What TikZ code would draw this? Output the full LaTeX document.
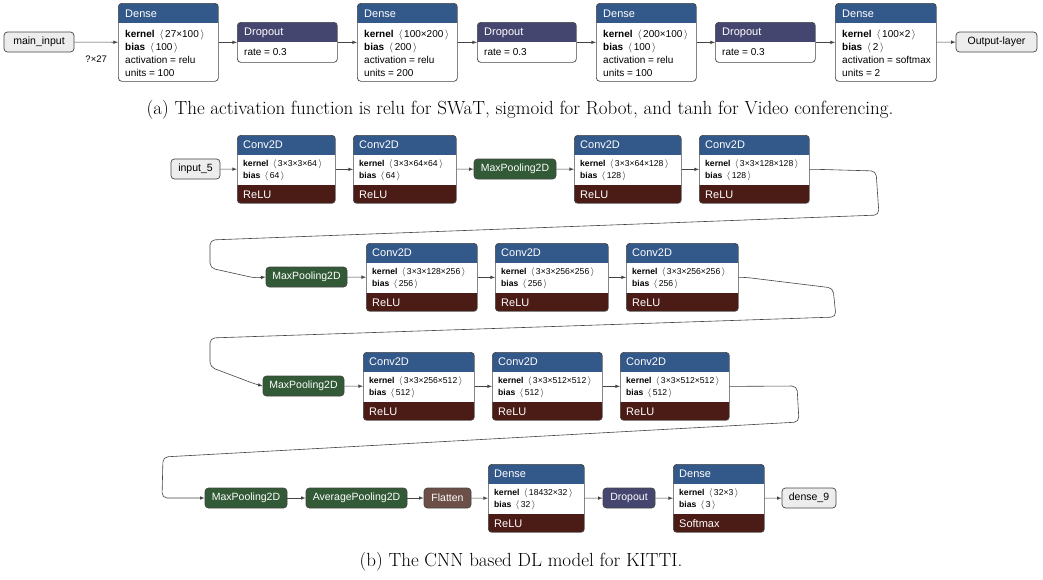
\documentclass[tikz,border=0pt]{standalone}
\usepackage{fontspec}
\newfontfamily\netfont{Liberation Sans}
\usepackage{xcolor}
\definecolor{layerblue}{HTML}{33588A}
\definecolor{dropcol}{HTML}{45466F}
\definecolor{poolcol}{HTML}{325A36}
\definecolor{actcol}{HTML}{4B1B16}
\definecolor{shapecol}{HTML}{6C4F47}
\definecolor{edgecol}{HTML}{444444}
\tikzset{
  box/.style 2 args={draw=edgecol,fill=white,line width=0.7pt,rounded corners=3.5pt,
    inner sep=0pt,anchor=north west,minimum width=#1,minimum height=#2},
  head/.style={path picture={\fill[#1,sharp corners] (path picture bounding box.north west)
    rectangle ([yshift=-20pt]path picture bounding box.north east);}},
  conv/.style={path picture={\fill[layerblue,sharp corners] (path picture bounding box.north west)
    rectangle ([yshift=-20pt]path picture bounding box.north east);
    \fill[actcol,sharp corners] (path picture bounding box.south west)
    rectangle ([yshift=18pt]path picture bounding box.south east);}},
  pill/.style={draw=edgecol,rounded corners=3.5pt,line width=0.7pt,minimum height=20pt,
    inner sep=0pt,text=white,font=\netfont\fontsize{10.5}{12}\selectfont},
  io/.style={pill,fill=black!7,text=black},
  title/.style={anchor=west,inner sep=0pt,text=white,font=\netfont\fontsize{11}{12}\selectfont},
  info/.style={anchor=north west,inner sep=0pt,align=left,font=\netfont\fontsize{10}{13}\selectfont},
  small/.style={info,font=\netfont\fontsize{8.6}{12}\selectfont},
  link/.style={->,draw=edgecol,line width=0.6pt,rounded corners=5pt},
}
\NewDocumentCommand\kb{m m}{\textbf{kernel}\enspace$\langle\,$#1$\,\rangle$\\\textbf{bias}\enspace$\langle\,$#2$\,\rangle$}
% boxes of the first model: name, x, y, width, height, colour, title, text
\NewDocumentCommand\topbox{m m m m m m m m}{%
  \node[box={#4pt}{#5pt},head=#6] (#1) at (#2,#3) {};
  \node[title] at ([xshift=7pt,yshift=-10.5pt]#1.north west) {#7};
  \node[info] at ([xshift=7pt,yshift=-26.5pt]#1.north west) {#8};}
% boxes of the CNN: name, x, y, width, title, text, activation
\NewDocumentCommand\actbox{m m m m m m m}{%
  \node[box={#4pt}{68pt},conv] (#1) at (#2,#3) {};
  \node[title] at ([xshift=6pt,yshift=-10pt]#1.north west) {#5};
  \node[small] at ([xshift=6pt,yshift=-24.5pt]#1.north west) {#6};
  \node[title] at ([xshift=6pt,yshift=9pt]#1.south west) {#7};}

\begin{document}
\begin{tikzpicture}[>=latex,x=1pt,y=-1pt]
  \useasboundingbox[fill=white] (0,0) rectangle (1043,579);
  % (a)
  \node[io,minimum width=70pt] (inp) at (39,42) {main\_input};
  \topbox{d1}{118}{3}{100}{78}{layerblue}{Dense}{\textbf{kernel}\enspace$\langle\,$27×100$\,\rangle$\\\textbf{bias}\enspace$\langle\,$100$\,\rangle$\\activation = relu\\units = 100}
  \topbox{r1}{237}{22}{100}{40}{dropcol}{Dropout}{rate = 0.3}
  \topbox{d2}{357}{3}{100}{78}{layerblue}{Dense}{\textbf{kernel}\enspace$\langle\,$100×200$\,\rangle$\\\textbf{bias}\enspace$\langle\,$200$\,\rangle$\\activation = relu\\units = 200}
  \topbox{r2}{477}{22}{99}{40}{dropcol}{Dropout}{rate = 0.3}
  \topbox{d3}{596}{3}{100}{78}{layerblue}{Dense}{\textbf{kernel}\enspace$\langle\,$200×100$\,\rangle$\\\textbf{bias}\enspace$\langle\,$100$\,\rangle$\\activation = relu\\units = 100}
  \topbox{r3}{715}{22}{100}{40}{dropcol}{Dropout}{rate = 0.3}
  \topbox{d4}{835}{3}{101}{78}{layerblue}{Dense}{\textbf{kernel}\enspace$\langle\,$100×2$\,\rangle$\\\textbf{bias}\enspace$\langle\,$2$\,\rangle$\\activation = softmax\\units = 2}
  \node[io,minimum width=81pt] (out) at (996.5,42) {Output-layer};
  \draw[link] (inp) -- node[pos=0.5,yshift=-17pt,font=\netfont\fontsize{9.5}{11}\selectfont]{?×27} (d1);
  \draw[link] (d1) -- (r1);
  \draw[link] (r1) -- (d2);
  \draw[link] (d2) -- (r2);
  \draw[link] (r2) -- (d3);
  \draw[link] (d3) -- (r3);
  \draw[link] (r3) -- (d4);
  \draw[link] (d4) -- (out);
  \node[font=\fontsize{19}{22}\selectfont] (capa) at (520,110) {(a) The activation function is relu for SWaT, sigmoid for Robot, and tanh for Video conferencing.};
  % (b)
  \node[io,minimum width=49pt] (in5) at (195.5,169) {input\_5};
  \actbox{c1}{237}{135}{98}{Conv2D}{\kb{3×3×3×64}{64}}{ReLU}
  \actbox{c2}{353}{135}{103}{Conv2D}{\kb{3×3×64×64}{64}}{ReLU}
  \node[pill,fill=poolcol,minimum width=82pt] (p1) at (515,169) {MaxPooling2D};
  \actbox{c3}{574}{135}{107}{Conv2D}{\kb{3×3×64×128}{128}}{ReLU}
  \actbox{c4}{699}{135}{110}{Conv2D}{\kb{3×3×128×128}{128}}{ReLU}
  \node[pill,fill=poolcol,minimum width=81pt] (p2) at (306.5,277) {MaxPooling2D};
  \actbox{c5}{366}{243}{111}{Conv2D}{\kb{3×3×128×256}{256}}{ReLU}
  \actbox{c6}{495}{243}{113}{Conv2D}{\kb{3×3×256×256}{256}}{ReLU}
  \actbox{c7}{626}{243}{112}{Conv2D}{\kb{3×3×256×256}{256}}{ReLU}
  \node[pill,fill=poolcol,minimum width=81pt] (p3) at (303.5,386) {MaxPooling2D};
  \actbox{c8}{363}{352}{111}{Conv2D}{\kb{3×3×256×512}{512}}{ReLU}
  \actbox{c9}{492}{352}{110}{Conv2D}{\kb{3×3×512×512}{512}}{ReLU}
  \actbox{c10}{620}{352}{109}{Conv2D}{\kb{3×3×512×512}{512}}{ReLU}
  \node[pill,fill=poolcol,minimum width=82pt] (p4) at (246,498) {MaxPooling2D};
  \node[pill,fill=poolcol,minimum width=101pt] (a1) at (356.5,498) {AveragePooling2D};
  \node[pill,fill=shapecol,minimum width=47pt] (fl) at (447.5,498) {Flatten};
  \actbox{e1}{488}{464}{96}{Dense}{\kb{18432×32}{32}}{ReLU}
  \node[pill,fill=dropcol,minimum width=52pt] (dr) at (629,498) {Dropout};
  \actbox{e2}{673}{464}{91}{Dense}{\kb{32×3}{3}}{Softmax}
  \node[io,minimum width=54pt] (d9) at (809,498) {dense\_9};
  \draw[link] (in5) -- (c1);
  \draw[link] (c1) -- (c2);
  \draw[link] (c2) -- (p1);
  \draw[link] (p1) -- (c3);
  \draw[link] (c3) -- (c4);
  \draw[link] (c4.east) -- ++(8,0) -- (876,171) -- (879,215) -- (210,240) -- (210,268) -- (255,278) -- (p2.west);
  \draw[link] (p2) -- (c5);
  \draw[link] (c5) -- (c6);
  \draw[link] (c6) -- (c7);
  \draw[link] (c7.east) -- ++(7,0) -- (833,288) -- (836,317) -- (210,338) -- (210,367) -- (255,384) -- (p3.west);
  \draw[link] (p3) -- (c8);
  \draw[link] (c8) -- (c9);
  \draw[link] (c9) -- (c10);
  \draw[link] (c10.east) -- ++(6,0) -- (797,386) -- (799,422) -- (163,457) -- (162,498) -- (p4.west);
  \draw[link] (p4) -- (a1);
  \draw[link] (a1) -- (fl);
  \draw[link] (fl) -- (e1);
  \draw[link] (e1) -- (dr);
  \draw[link] (dr) -- (e2);
  \draw[link] (e2) -- (d9);
  \node[font=\fontsize{19}{22}\selectfont] (capb) at (521,562) {(b) The CNN based DL model for KITTI.};
\end{tikzpicture}
\end{document}
